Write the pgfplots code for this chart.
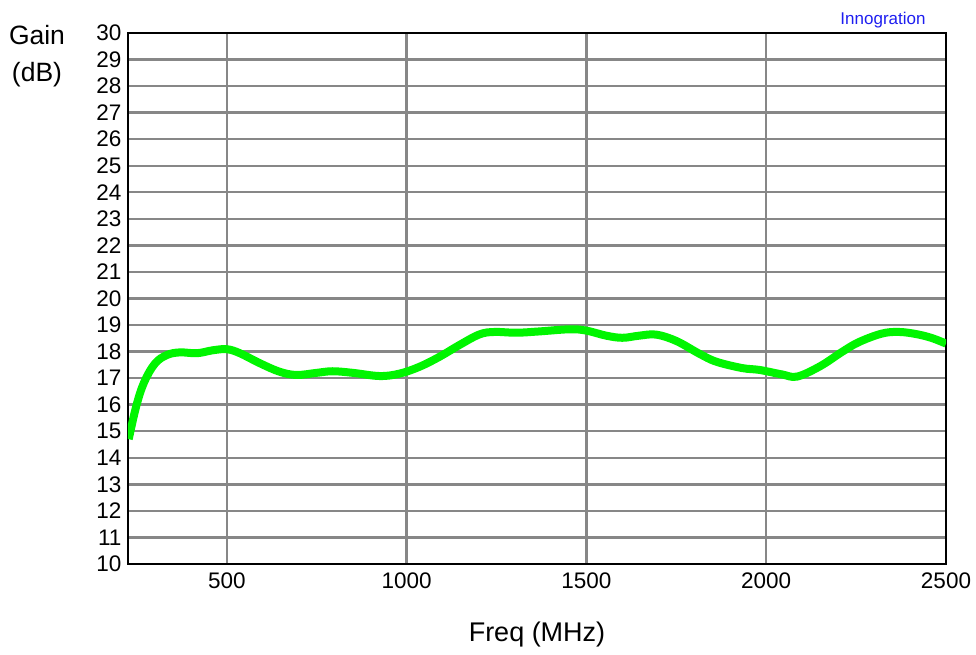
\documentclass[border=0pt]{standalone}
\usepackage{pgfplots}
\pgfplotsset{compat=1.18}
\usepackage{fontspec}
\setmainfont{Liberation Sans}
\definecolor{gridgray}{RGB}{135,135,135}
\definecolor{curvegreen}{RGB}{0,245,0}
\definecolor{brandblue}{RGB}{30,30,240}
\begin{document}
\begin{tikzpicture}
\begin{axis}[
  name=ax,
  scale only axis,
  width=818bp, height=531bp,
  xmin=225, xmax=2500, ymin=10, ymax=30,
  xtick={500,1000,1500,2000,2500},
  ytick={10,11,...,30},
  grid=major,
  major grid style={gridgray, line width=2.4bp},
  axis line style={black, line width=2.6bp},
  tick style={draw=none},
  /pgf/number format/assume math mode=true,
  /pgf/number format/1000 sep={},
  ticklabel style={font=\fontsize{22.5bp}{24bp}\selectfont},
  yticklabel style={xshift=-3bp},
  xticklabel style={yshift=-5bp},
]
\addplot[curvegreen, line width=8bp, smooth, tension=0.6] coordinates {
(227,14.7) (248,15.95) (270,16.85) (300,17.55) (333,17.87) (369,17.97)
(417,17.94) (461,18.05) (500,18.09) (536,17.94) (592,17.56) (647,17.24)
(694,17.12) (750,17.2) (794,17.26) (850,17.2) (925,17.08) (980,17.17)
(1036,17.43) (1092,17.81) (1147,18.25) (1203,18.65) (1245,18.74) (1305,18.71)
(1369,18.76) (1453,18.84) (1500,18.79) (1555,18.6) (1600,18.52) (1647,18.6)
(1694,18.64) (1750,18.4) (1814,17.92) (1861,17.62) (1933,17.38) (1981,17.31)
(2044,17.14) (2086,17.06) (2150,17.45) (2211,17.99) (2258,18.36) (2322,18.68)
(2369,18.74) (2417,18.66) (2461,18.51) (2500,18.3)
};
\end{axis}
\node[font=\fontsize{26.5bp}{30bp}\selectfont] at ([shift={(-91bp,-2bp)}]ax.north west) {Gain};
\node[font=\fontsize{26.5bp}{30bp}\selectfont] at ([shift={(-91bp,-42bp)}]ax.north west) {(dB)};
\node[font=\fontsize{27bp}{30bp}\selectfont] at ([shift={(0bp,-71bp)}]ax.south) {Freq (MHz)};
\node[font=\fontsize{17bp}{20bp}\selectfont, text=brandblue] at ([shift={(-63bp,13bp)}]ax.north east) {Innogration};
\pgfresetboundingbox
\useasboundingbox ([shift={(-128bp,-91bp)}]ax.south west) rectangle ([shift={(30bp,33bp)}]ax.north east);
\end{tikzpicture}
\end{document}
